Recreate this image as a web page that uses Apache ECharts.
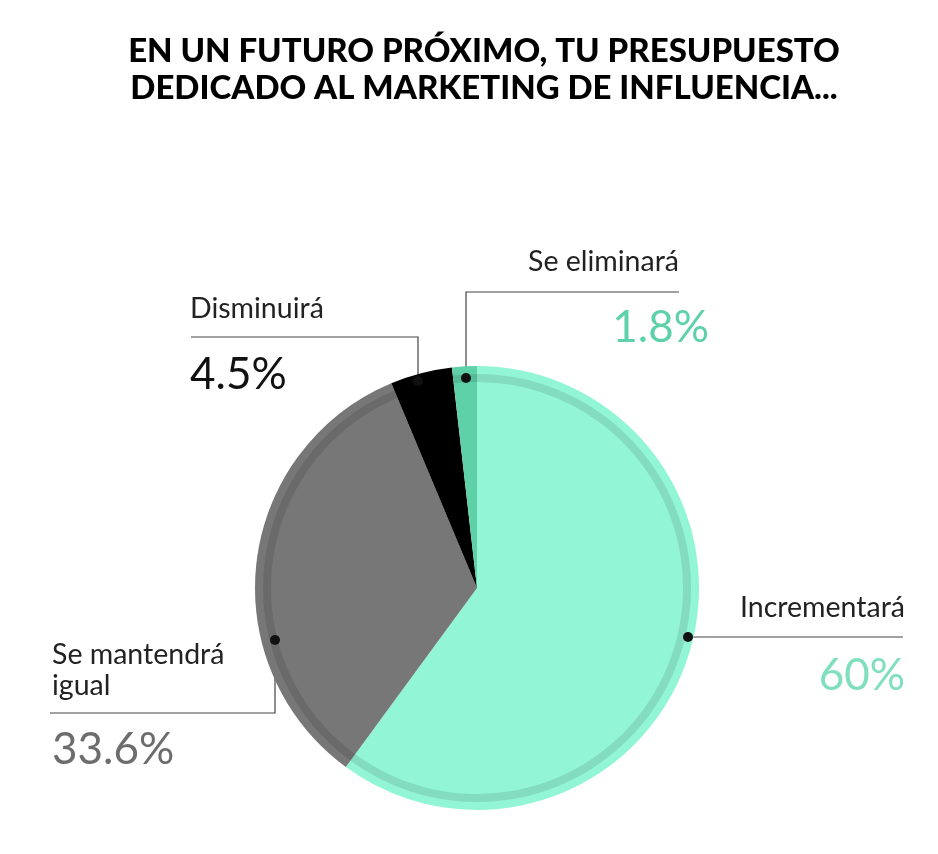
<!DOCTYPE html>
<html><head><meta charset="utf-8">
<style>html,body{margin:0;padding:0;background:#fff}#c{width:938px;height:854px}</style>
<script src="https://cdn.jsdelivr.net/npm/echarts@6/dist/echarts.min.js"></script>
</head><body><div id="c"></div>
<script>
const categories = ['Incrementará', 'Se mantendrá\nigual', 'Disminuirá', 'Se eliminará'];
const values = [60, 33.6, 4.5, 1.8];
const valueLabels = ['60%', '33.6%', '4.5%', '1.8%'];
const sliceColors = ['#92f5d5', '#777777', '#000000', '#5fd1a9'];
const valueColors = ['#80e0bd', '#6d6d6d', '#111111', '#5fd1a9'];

const chart = echarts.init(document.getElementById('c'));
const FONT = 'Lato, "Noto Sans", sans-serif';

// label placements (layout only)
const layouts = [
  {x: 905, y: 586, align: 'right', nlh: 44, vlh: 92, pts: [[688,637],[903,637]], npad: 0},
  {x: 52, y: 639, align: 'left', nlh: 31, vlh: 97, pts: [[275,640],[275,713],[50,713]], npad: 0},
  {x: 190, y: 289, align: 'left', nlh: 40, vlh: 92, pts: [[418,381],[418,337],[191,337]], npad: 0},
  {x: 709, y: 242, align: 'right', nlh: 40, vlh: 92, pts: [[466,378],[466,292],[679,292]], npad: 30}
];

const data = categories.map((c, i) => ({
  name: c,
  value: values[i],
  itemStyle: {color: sliceColors[i]},
  label: {
    formatter: '{n|' + c + '}\n{v' + i + '|' + valueLabels[i] + '}',
    align: layouts[i].align,
    rich: Object.assign({
      n: {fontFamily: FONT, fontSize: 28.5, color: '#222', lineHeight: layouts[i].nlh, padding: [0, layouts[i].npad, 0, 0], align: layouts[i].align}
    }, {['v' + i]: {fontFamily: FONT, fontSize: 44, color: valueColors[i], lineHeight: layouts[i].vlh, align: layouts[i].align}})
  }
}));

chart.setOption({
  animation: false,
  title: {
    text: 'EN UN FUTURO PRÓXIMO, TU PRESUPUESTO\nDEDICADO AL MARKETING DE INFLUENCIA...',
    left: 479, top: 28, textAlign: 'center',
    textStyle: {fontFamily: FONT, fontWeight: 900, fontSize: 33, lineHeight: 37, color: '#000'}
  },
  series: [
    {
      type: 'pie', center: [477, 588], radius: 222, startAngle: 90, clockwise: true,
      data: data,
      label: {show: true, position: 'outside', verticalAlign: 'top'},
      labelLine: {show: true, lineStyle: {color: '#444', width: 1.2}},
      labelLayout: function (p) {
        const L = layouts[p.dataIndex];
        return {x: L.x, y: L.y, align: L.align, verticalAlign: 'top', labelLinePoints: L.pts};
      },
      emphasis: {disabled: true}
    },
    {
      type: 'pie', center: [477, 588], radius: [206, 214], startAngle: 90, clockwise: true, silent: true,
      data: values.map(v => ({value: v})),
      itemStyle: {color: 'rgba(0,0,0,0.1)'},
      label: {show: false}, labelLine: {show: false}
    }
  ],
  graphic: layouts.map(L => ({
    type: 'circle', shape: {cx: L.pts[0][0], cy: L.pts[0][1], r: 5}, style: {fill: '#111'}, z: 100
  }))
});
</script></body></html>
